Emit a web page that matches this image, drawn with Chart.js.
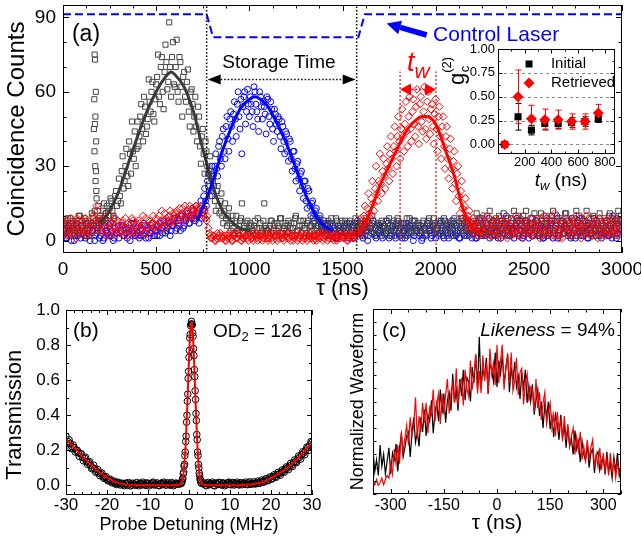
<!DOCTYPE html>
<html><head><meta charset="utf-8">
<script src="https://cdn.jsdelivr.net/npm/chart.js@4.4.1/dist/chart.umd.min.js"></script>
<style>
html,body{margin:0;padding:0;background:#fff;}
#wrap{position:relative;width:641px;height:542px;overflow:hidden;background:#fff;}
canvas{position:absolute;}
</style></head><body>
<div id="wrap">
<canvas id="cA" width="641" height="302" style="left:0px;top:0px"></canvas>
<canvas id="cB" width="330" height="247" style="left:0px;top:295px"></canvas>
<canvas id="cC" width="311" height="247" style="left:330px;top:295px"></canvas>
<canvas id="cI" width="195" height="160" style="left:440px;top:40px"></canvas>
</div>
<script>
// ================= DATA =================
// Panel (a): coincidence counts. Sweep A sampled at tauStart + k*tauStep, sweep B at tauStartB + k*tauStep (ns)
const tauStart = 0, tauStartB = 5, tauStep = 10;
const initialCounts = [
 5,8,3,6,9,4,2,7,5,10,
 3,6,8,4,2,7,9,12,6,14,
 10,8,15,11,7,13,16,10,18,14,
 25,15,34,24,37,22,35,48,33,30,
 48,42,55,40,54,46,65,52,64,48,
 63,75,55,74,53,79,61,88,58,80,
 62,81,56,72,50,68,56,69,46,61,
 44,58,40,50,31,45,27,36,22,34,
 18,27,12,22,11,19,7,15,6,13,
 4,10,3,10,3,8,15,6,2,8,
 5,6,3,8,5,2,7,4,15,5,
 3,6,8,4,2,7,5,9,3,6,
 4,8,5,2,7,10,4,6,3,8,
 5,7,2,6,9,4,5,3,8,6,
 4,7,2,5,9,3,6,8,4,5,
 7,3,6,2,8,5,4,9,6,3,
 7,5,2,8,4,6,10,3,5,7,
 4,8,6,2,5,9,3,7,4,6,
 8,5,3,7,2,6,9,4,5,8,
 3,6,4,7,5,2,8,6,3,9,
 5,4,7,3,6,8,2,5,7,4,
 9,6,3,5,8,4,7,2,6,5,
 8,4,11,6,3,9,5,2,7,12,
 4,8,6,3,10,5,2,7,4,9,
 6,3,12,5,8,2,6,10,4,7,
 3,9,5,11,4,6,2,8,5,10,
 7,3,6,12,4,9,2,5,8,6,
 11,4,7,3,9,5,2,10,6,4,
 8,12,5,3,7,9,4,6,11,2,
 5,8,4,10,6,3,9,7,12,5,
 6];
const initialCountsB = [
 7,4,9,2,6,8,3,5,10,6,
 4,9,2,7,5,11,6,8,4,9,
 7,12,9,14,10,17,12,9,20,16,
 18,28,21,30,26,40,27,36,44,37,
 38,50,45,58,43,49,56,60,51,57,
 66,58,70,60,68,72,64,70,74,63,
 70,60,74,62,66,58,64,52,60,55,
 50,46,54,38,42,35,40,30,28,25,
 24,16,20,14,16,10,12,9,10,7,
 8,5,7,4,6,9,3,5,7,4,
 7,4,6,2,9,5,3,8,6,4,
 5,8,3,7,4,6,9,2,5,7,
 6,3,7,5,9,4,2,8,6,5,
 3,8,6,4,7,2,6,9,5,4,
 6,5,8,3,7,4,9,2,6,8,
 5,8,4,7,3,6,2,7,5,8,
 4,6,9,5,7,3,8,5,2,6,
 7,3,5,8,4,6,2,8,5,9,
 6,2,7,4,9,5,3,6,8,4,
 7,5,2,8,4,6,9,3,5,7,
 6,8,3,5,9,4,7,6,2,8,
 5,3,7,9,4,6,2,8,5,3,
 3,7,5,9,2,6,4,10,3,6,
 7,2,9,5,3,8,11,4,6,2,
 9,5,3,7,10,4,8,3,12,5,
 6,2,7,4,9,3,11,5,7,2,
 4,8,10,3,6,2,9,7,3,11,
 5,7,2,8,4,12,6,3,9,5,
 3,6,9,2,10,5,7,3,8,6,
 9,3,6,11,4,7,2,8,5,10];
const initialSpikeTau = [166,168,169,170,171,172,173,174,175,176,177,178,179,180];
const initialSpikeCounts = [45,57,36,75,47,73,30,50,24,60,28,40,20,17];
const slowCounts = [
 2,5,1,4,7,3,0,6,2,4,
 8,3,1,5,2,6,4,0,3,7,
 2,5,1,4,3,6,2,0,5,3,
 1,4,6,2,3,5,0,4,7,2,
 3,1,5,2,6,4,1,3,7,2,
 4,6,2,5,8,3,5,7,4,6,
 9,5,7,4,10,6,8,11,7,9,
 12,8,11,7,16,12,21,14,27,18,
 30,22,35,26,40,30,45,33,50,36,
 52,40,56,42,60,45,35,58,47,61,
 50,55,46,60,52,44,58,49,54,43,
 57,47,53,40,51,44,49,37,46,35,
 43,32,40,28,36,24,32,20,28,17,
 24,13,20,10,16,8,13,6,10,4,
 8,3,7,5,2,6,4,1,5,3,
 2,6,4,1,7,3,5,2,8,4,
 3,1,6,4,2,5,7,3,1,4,
 6,2,5,3,8,1,4,6,2,7,
 3,5,1,4,7,2,6,3,0,5,
 4,2,6,1,5,3,7,4,2,6,
 1,5,3,8,2,4,6,1,3,5,
 7,2,4,1,6,3,5,8,2,4,
 3,6,1,5,9,2,4,7,3,1,
 5,8,2,4,6,1,3,7,10,4,
 2,5,1,6,3,8,4,2,7,5,
 1,4,9,3,6,2,5,8,1,4,
 6,3,7,1,5,10,2,4,8,3,
 5,2,6,9,3,1,7,4,2,8,
 4,6,1,5,3,9,2,7,4,1,
 6,3,8,2,5,10,4,1,7,3,
 5];
const slowCountsB = [
 4,1,6,3,0,5,2,7,3,1,
 5,2,7,3,0,4,6,2,5,1,
 4,0,6,3,2,7,4,1,3,6,
 3,6,2,5,1,4,7,3,2,5,
 6,2,4,7,1,5,3,6,2,4,
 2,5,7,3,6,4,8,2,6,9,
 4,8,6,10,5,9,12,7,10,13,
 9,14,10,13,9,18,16,24,20,28,
 26,30,29,38,33,42,36,46,41,49,
 46,51,49,55,50,57,54,60,52,55,
 58,52,62,55,49,60,54,56,51,58,
 50,56,45,53,47,50,42,48,40,44,
 36,41,33,36,29,31,25,27,22,24,
 16,21,14,15,11,12,9,8,6,7,
 4,6,2,7,3,5,1,6,4,2,
 5,3,7,2,4,6,1,5,3,7,
 2,6,4,0,5,3,8,2,6,3,
 4,1,6,3,7,2,5,4,1,6,
 2,7,4,1,5,3,6,8,2,4,
 6,3,0,5,2,7,4,1,6,3,
 5,2,7,4,1,6,3,5,8,2,
 3,6,1,5,9,2,4,7,3,1,
 6,1,4,8,3,5,2,6,9,4,
 2,5,7,1,4,8,3,6,2,5,
 7,3,6,9,2,4,1,5,8,3,
 4,7,2,5,8,3,6,1,4,9,
 2,5,8,3,6,1,4,7,3,6,
 8,3,1,5,7,2,6,9,4,2,
 5,1,7,3,6,4,8,2,5,3,
 3,7,2,6,1,5,8,3,6,4];
const retrievedCounts = [
 4,7,2,5,9,3,6,1,8,4,
 6,3,9,5,2,7,10,4,14,6,
 8,3,6,11,4,2,7,5,9,3,
 6,4,8,2,5,7,3,9,4,6,
 2,7,5,10,3,6,8,4,7,5,
 9,4,7,12,5,8,6,10,7,11,
 8,12,6,10,13,8,11,9,14,10,
 12,9,13,11,14,10,12,8,5,2,
 1,2,0,3,1,2,1,0,2,3,
 1,0,2,1,3,2,0,1,2,1,
 3,1,0,2,1,2,3,0,1,2,
 0,2,1,4,1,0,2,3,1,2,
 1,3,0,2,1,2,0,1,3,1,
 2,0,1,3,2,1,0,2,1,3,
 1,2,0,1,2,3,1,0,2,1,
 2,1,3,0,1,2,1,2,3,4,
 9,3,14,6,19,9,24,12,30,16,
 35,19,33,21,38,24,42,27,46,30,
 50,33,53,36,56,38,58,40,57,42,
 61,39,58,44,62,41,60,43,55,39,
 57,36,54,33,50,29,46,25,41,21,
 36,16,30,11,24,8,17,5,12,4,
 9,3,7,2,6,4,8,3,5,9,
 2,6,4,8,3,1,7,5,9,4,
 6,2,5,10,3,7,4,1,8,5,
 3,9,2,6,4,7,1,5,10,3,
 5,8,2,4,11,6,3,7,1,5,
 9,3,6,2,8,4,7,5,1,6,
 4,10,3,5,2,7,6,1,9,4,
 6,2,8,4,7,3,5,9,2,5,
 4];
const retrievedCountsB = [
 6,3,8,2,5,7,4,9,3,6,
 8,4,2,7,5,3,9,6,12,8,
 4,9,5,2,7,10,3,6,4,8,
 3,7,5,9,2,6,4,8,3,7,
 8,4,6,3,9,5,2,7,10,6,
 6,10,8,5,11,9,7,12,8,10,
 11,9,13,11,9,14,12,10,12,13,
 10,14,12,13,11,13,9,10,3,1,
 2,0,1,2,3,1,2,0,1,2,
 0,2,3,1,2,0,1,3,2,0,
 2,1,2,3,0,1,2,1,3,1,
 1,3,0,2,2,1,3,1,0,2,
 3,1,2,0,2,3,1,2,0,2,
 1,2,3,1,0,2,1,3,2,0,
 2,3,1,2,1,0,2,1,3,2,
 1,2,0,2,3,1,2,3,2,6,
 5,10,7,13,11,17,15,21,19,24,
 23,28,26,31,29,35,33,38,36,42,
 40,45,42,47,44,50,45,52,47,54,
 46,55,48,52,45,56,49,53,46,51,
 45,50,42,46,38,42,33,37,29,32,
 23,27,18,20,13,14,9,10,6,7,
 5,8,2,6,4,10,3,7,5,2,
 8,4,6,2,9,5,3,7,1,6,
 4,8,3,6,2,9,5,3,7,4,
 7,2,5,8,3,6,9,2,4,8,
 3,6,9,2,7,4,1,8,5,3,
 5,8,2,7,4,10,3,6,9,2,
 7,3,6,9,4,2,8,5,3,7,
 3,8,5,2,9,4,7,3,6,8];
const initialFitTau = [200,250,300,350,400,450,500,550,580,600,650,700,750,775,800,850,900,950,1000];
const initialFitCounts = [7,12,20,31,42,52,60,66,68,67,62,52,37,30,23,13,8,5,4];
const slowFitTau = [720,760,800,850,900,950,1000,1030,1060,1100,1150,1200,1250,1300,1350,1400,1450];
const slowFitCounts = [8,15,23,35,45,53,57,58,57,54,47,39,29,19,11,6,4];
const retrievedFitTau = [1580,1600,1650,1700,1750,1800,1850,1900,1925,1950,2000,2050,2100,2150,2200,2250];
const retrievedFitCounts = [2,4,12,22,30,38,45,49,50,50,47,37,26,12,5,3];
const controlTau = [0,771,805,1585,1620,3000];
const controlLevel = [91.3,91.3,82,82,91.3,91.3];
const storageEdges = [771,1576];
const twEdges = [1809,2002];
const twTop = 68.2;

// Inset: g_c^(2) vs t_w
const twValues = [50,150,250,350,450,550,650,750];
const initialG = [0.00,0.29,0.15,0.22,0.22,0.23,0.24,0.27];
const initialGErr = [0.01,0.14,0.05,0.06,0.05,0.05,0.05,0.04];
const retrievedG = [0.00,0.50,0.27,0.26,0.26,0.24,0.24,0.33];
const retrievedGErr = [0.01,0.28,0.14,0.11,0.10,0.08,0.08,0.09];

// Panel (b): EIT transmission
const detLeftStart = -30, detLeftStartB = -29.75, detWingStep = 0.5;
const transLeft = [
 0.28,0.25,0.24,0.22,0.215,0.2,0.185,0.18,0.16,0.155,
 0.135,0.13,0.115,0.1,0.095,0.08,0.07,0.065,0.05,0.045,
 0.035,0.03,0.025,0.02,0.012,0.015,0.008,0.01,0.004,0.012,
 0,0.008,0.002,0.01,0,0.006,0.012,0.002,0.008,0,
 0.01,0.004,0.014,0.002,0.008,0,0.01,0.004,0.012,0.002,
 0.008,0,0.01,0.004,0.012,0.006];
const transLeftB = [
 0.24,0.26,0.21,0.23,0.19,0.2,0.165,0.18,0.14,0.16,
 0.12,0.135,0.095,0.115,0.075,0.09,0.055,0.07,0.04,0.05,
 0.025,0.035,0.014,0.024,0.005,0.018,0.002,0.012,-0.002,0.01,
 0.016,-0.003,0.012,0.004,0.016,-0.002,0.01,0.018,0.003,0.014,
 -0.003,0.01,0.018,0.004,0.014,-0.002,0.012,0.018,0.002,0.015,
 0.005,0.016,-0.002,0.012,0.008];
const detPeakStart = -2.0, detPeakStep = 0.1;
const transPeak = [
 0.012,0.01,0.018,0.02,0.032,0.04,0.065,0.075,0.11,0.12,
 0.17,0.19,0.25,0.28,0.36,0.4,0.48,0.52,0.61,0.65,
 0.73,0.77,0.84,0.86,0.91,0.92,0.935,0.92,0.915,0.87,
 0.85,0.78,0.74,0.66,0.62,0.54,0.49,0.41,0.37,0.29,
 0.26,0.19,0.17,0.12,0.1,0.07,0.055,0.035,0.03,0.018,0.012];
const detRightStart = 3.5, detRightStartB = 3.75;
const transRight = [
 0.008,0.002,0.012,0.004,0.01,0,0.012,0.006,0.014,0.002,
 0.01,0.004,0.015,0.006,0.012,0.002,0.01,0.005,0.013,0.004,
 0.011,0.006,0.014,0.008,0.012,0.01,0.016,0.014,0.022,0.02,
 0.03,0.028,0.04,0.038,0.05,0.05,0.062,0.064,0.075,0.08,
 0.092,0.098,0.11,0.115,0.13,0.135,0.15,0.16,0.175,0.185,
 0.2,0.215,0.23,0.245];
const transRightB = [
 0.014,-0.002,0.016,0.008,0.018,-0.003,0.01,0.017,0.004,0.015,
 -0.002,0.012,0.018,0.003,0.016,0.008,0.018,0.002,0.015,0.01,
 0.018,0.004,0.02,0.006,0.02,0.008,0.024,0.012,0.03,0.018,
 0.038,0.026,0.048,0.036,0.06,0.046,0.074,0.058,0.088,0.075,
 0.105,0.09,0.125,0.108,0.145,0.13,0.168,0.15,0.192,0.175,
 0.218,0.2,0.25];
const transFitDet = [-30,-28,-26,-24,-22,-20,-18,-16,-14,-10,-4,-2.5,-2,-1.6,-1.2,-0.8,-0.4,0,0.3,0.6,0.9,1.2,1.6,2.0,2.4,2.8,3.2,3.6,6,12,14,16,18,20,22,24,26,28,30];
const transFit = [0.265,0.215,0.165,0.12,0.078,0.045,0.02,0.007,0.002,0,0,0.003,0.01,0.03,0.1,0.24,0.47,0.72,0.87,0.93,0.88,0.73,0.48,0.25,0.1,0.03,0.01,0.003,0,0.001,0.003,0.008,0.018,0.04,0.068,0.1,0.14,0.19,0.245];

// Panel (c): normalized waveforms, sampled every 5 ns from -350 ns
const wfStart = -350, wfStep = 5;
const wfInitial = [
 3.3,1.7,2.6,1.4,3.7,2.1,3.0,1.5,2.5,3.5,
 1.5,3.1,2.6,3.8,1.7,3.5,4.5,2.8,3.5,4.4,
 4.7,2.8,4.6,5.8,3.9,4.7,3.6,5.8,4.7,6.4,
 4.4,6.0,5.5,7.1,4.6,6.2,6.9,5.5,7.9,6.1,
 7.6,5.4,7.1,7.7,6.3,9.1,6.9,7.9,6.3,8.7,
 7.4,9.4,7.1,8.8,8.5,7.0,9.6,8.4,10.5,8.0,
 11.9,8.0,9.5,8.8,10.3,7.6,9.9,9.4,8.5,10.7,
 8.1,10.1,9.1,10.5,8.3,9.5,10.6,7.7,9.6,8.5,
 10.0,8.1,8.9,7.2,9.2,8.0,9.4,6.9,8.2,7.0,
 8.3,6.0,7.1,7.9,5.9,7.0,5.0,6.8,5.8,7.0,
 4.9,5.9,4.3,6.0,5.3,4.1,6.0,4.3,5.2,3.5,
 5.1,3.6,4.2,3.0,4.8,3.4,4.0,2.4,4.0,3.0,
 2.5,3.8,2.0,3.1,3.4,1.6,2.9,3.2,1.8,2.5,
 2.8,1.5,3.2,1.7,2.3,1.2,2.8,1.7,3.1,1.4,
 2.2];
const wfRetrieved = [
 1.0,0.7,1.1,0.65,0.85,1.2,0.7,1.1,1.4,1.2,
 2.3,1.5,3.4,2.3,3.7,2.3,4.7,3.2,4.2,5.2,
 3.7,5.8,4.4,5.2,7.3,4.2,5.9,4.7,6.9,5.4,
 6.9,4.6,6.5,6.0,7.9,5.5,6.8,7.6,5.3,7.6,
 6.0,7.5,8.7,6.1,7.6,8.4,6.9,9.5,6.7,8.4,
 8.7,6.7,9.4,8.0,7.4,10.1,7.9,8.9,10.6,7.6,
 9.3,7.65,10.5,8.55,10.0,7.55,11.0,9.05,9.9,8.25,
 11.3,8.4,10.1,11.3,7.9,9.6,10.4,8.4,10.7,7.8,
 8.5,10.3,7.5,9.2,9.5,6.8,8.4,9.1,7.0,8.1,
 7.9,6.2,8.7,6.5,7.7,5.6,6.9,7.7,5.3,6.2,
 6.9,5.0,6.0,4.4,6.2,4.9,5.6,4.0,5.9,4.1,
 5.3,3.6,4.4,5.0,3.0,4.3,3.3,4.7,2.6,3.6,
 2.6,4.1,2.7,3.5,4.1,2.0,3.0,2.1,3.5,1.8,
 3.1,1.7,2.7,1.4,3.1,1.7,2.5,1.2,2.4,1.6,
 1.6];

// ================= HELPERS =================
const FONT = "'Liberation Sans', Arial, Helvetica, sans-serif";
Chart.defaults.font.family = FONT;
Chart.defaults.color = '#000';
const series = (t0, dt, vals) => vals.map((v, i) => ({x: +(t0 + i * dt).toFixed(4), y: v}));
const pairs = (xs, ys) => xs.map((x, i) => ({x, y: ys[i]}));
const stepsFrom = (a, b, s) => { const r = []; for (let k = 0; a + k * s <= b + 1e-9; k++) r.push(+(a + k * s).toFixed(6)); return r; };
const isMult = (v, s) => Math.abs(v / s - Math.round(v / s)) < 1e-6;

function axis(o) {
  return {
    type: 'linear', position: o.pos, min: o.min, max: o.max,
    afterBuildTicks: s => { s.ticks = stepsFrom(o.first, o.last, o.minor).map(v => ({value: v})); },
    ticks: { autoSkip: false, maxRotation: 0, minRotation: 0, padding: o.pad, font: {size: o.fs}, color: '#000',
      callback: v => (o.major && isMult(v, o.major)) ? o.fmt(v) : '' },
    grid: { display: false, drawTicks: false },
    border: { display: false },
    title: o.title ? { display: true, text: o.title, font: {size: o.tfs}, color: '#000', padding: o.tpad } : {display: false},
    afterFit: s => {
      if (o.pos === 'bottom') s.height = o.size; else s.width = o.size;
      s.paddingLeft = 0; s.paddingRight = 0; s.paddingTop = 0; s.paddingBottom = 0;
    }
  };
}

const frameTicks = {
  id: 'frameTicks',
  afterDatasetsDraw(chart, args, o) {
    const {ctx, chartArea: a} = chart;
    const xs = chart.scales.x, ys = chart.scales.y;
    ctx.save();
    ctx.setLineDash([]);
    ctx.strokeStyle = '#000';
    ctx.lineWidth = 1;
    ctx.strokeRect(a.left + 0.5, a.top + 0.5, a.right - a.left - 1, a.bottom - a.top - 1);
    ctx.beginPath();
    xs.ticks.forEach(t => {
      if (!isMult(t.value, o.xMinor)) return;
      const L = (o.xMajor && isMult(t.value, o.xMajor)) ? o.major : o.minor;
      const p = Math.round(xs.getPixelForValue(t.value)) + 0.5;
      ctx.moveTo(p, a.bottom); ctx.lineTo(p, a.bottom - L);
      ctx.moveTo(p, a.top); ctx.lineTo(p, a.top + L);
    });
    ys.ticks.forEach(t => {
      if (!isMult(t.value, o.yMinor)) return;
      const L = (o.yMajor && isMult(t.value, o.yMajor)) ? o.major : o.minor;
      const p = Math.round(ys.getPixelForValue(t.value)) + 0.5;
      ctx.moveTo(a.left, p); ctx.lineTo(a.left + L, p);
      ctx.moveTo(a.right, p); ctx.lineTo(a.right - L, p);
    });
    ctx.stroke();
    ctx.restore();
  }
};

function dblArrow(ctx, x1, x2, yy, color, hl, hw, dash, lw) {
  ctx.strokeStyle = color; ctx.fillStyle = color; ctx.lineWidth = lw;
  ctx.setLineDash(dash);
  ctx.beginPath(); ctx.moveTo(x1 + hl, yy); ctx.lineTo(x2 - hl, yy); ctx.stroke();
  ctx.setLineDash([]);
  ctx.beginPath(); ctx.moveTo(x1, yy); ctx.lineTo(x1 + hl, yy - hw); ctx.lineTo(x1 + hl, yy + hw); ctx.closePath(); ctx.fill();
  ctx.beginPath(); ctx.moveTo(x2, yy); ctx.lineTo(x2 - hl, yy - hw); ctx.lineTo(x2 - hl, yy + hw); ctx.closePath(); ctx.fill();
}
function solidArrow(ctx, xt, yt, xh, yh, color, w, hl, hw) {
  const ang = Math.atan2(yh - yt, xh - xt);
  const bx = xh - hl * Math.cos(ang), by = yh - hl * Math.sin(ang);
  ctx.strokeStyle = color; ctx.fillStyle = color; ctx.lineWidth = w; ctx.setLineDash([]);
  ctx.beginPath(); ctx.moveTo(xt, yt); ctx.lineTo(bx, by); ctx.stroke();
  ctx.beginPath(); ctx.moveTo(xh, yh);
  ctx.lineTo(bx + hw * Math.sin(ang), by - hw * Math.cos(ang));
  ctx.lineTo(bx - hw * Math.sin(ang), by + hw * Math.cos(ang));
  ctx.closePath(); ctx.fill();
}

// ================= PANEL (a) =================
const aYMin = -5, aYMax = 95;
const annA = {
  panel: [48, 83.2], storageY: 65.3, storageLabel: [1159, 71.8],
  controlLabel: [1986, 82.8], controlTail: [1952, 82.9], controlHead: [1737, 87.5],
  twArrowY: 61.1, twT: [1846, 68.2], twWBase: 65.5
};
const annotA = {
  id: 'annotA',
  afterDatasetsDraw(chart) {
    const {ctx, scales: {x, y}} = chart;
    const px = v => x.getPixelForValue(v), py = v => y.getPixelForValue(v);
    ctx.save();
    dblArrow(ctx, px(storageEdges[0]) + 1, px(storageEdges[1]) - 1, Math.round(py(annA.storageY)) + 0.5, '#000', 13, 5, [1.5, 2], 1.5);
    dblArrow(ctx, px(twEdges[0]), px(twEdges[1]), Math.round(py(annA.twArrowY)) + 0.5, '#ff0000', 11, 6, [2, 2], 1.5);
    solidArrow(ctx, px(annA.controlTail[0]), py(annA.controlTail[1]), px(annA.controlHead[0]), py(annA.controlHead[1]), '#0000ff', 5.5, 14, 7);
    ctx.textBaseline = 'middle';
    ctx.fillStyle = '#000';
    ctx.font = '23px ' + FONT; ctx.textAlign = 'left';
    ctx.fillText('(a)', px(annA.panel[0]), py(annA.panel[1]));
    ctx.font = '19px ' + FONT; ctx.textAlign = 'center';
    ctx.fillText('Storage Time', px(annA.storageLabel[0]), py(annA.storageLabel[1]));
    ctx.fillStyle = '#0000ff'; ctx.font = '21px ' + FONT; ctx.textAlign = 'left';
    ctx.fillText('Control Laser', px(annA.controlLabel[0]), py(annA.controlLabel[1]));
    ctx.fillStyle = '#ff0000'; ctx.textBaseline = 'alphabetic';
    ctx.font = 'italic 27px ' + FONT;
    const tx = px(annA.twT[0]);
    ctx.fillText('t', tx, py(annA.twT[1]));
    const tw = ctx.measureText('t').width;
    ctx.font = 'italic 21px ' + FONT;
    ctx.fillText('w', tx + tw, py(annA.twWBase));
    ctx.restore();
  }
};
const lineDs = (data, color, w, dash) => ({ data, showLine: true, borderColor: color, borderWidth: w, borderDash: dash || [], pointRadius: 0, fill: false });
const fitDs = (data, color) => ({ data, showLine: true, borderColor: color, borderWidth: 3, pointRadius: 0, fill: false, cubicInterpolationMode: 'monotone' });
const ptsDs = (data, color, style, r) => ({ data, showLine: false, pointStyle: style, pointRadius: r, pointBorderWidth: 1, borderColor: color, pointBorderColor: color, backgroundColor: 'rgba(0,0,0,0)', pointBackgroundColor: 'rgba(0,0,0,0)' });

new Chart(document.getElementById('cA'), {
  type: 'scatter',
  data: { datasets: [
    lineDs(pairs(controlTau, controlLevel), '#0000ff', 2, [8, 4]),
    lineDs([{x: storageEdges[0], y: aYMin}, {x: storageEdges[0], y: aYMax}], '#000', 1.5, [1.5, 2]),
    lineDs([{x: storageEdges[1], y: aYMin}, {x: storageEdges[1], y: aYMax}], '#000', 1.5, [1.5, 2]),
    lineDs([{x: twEdges[0], y: aYMin}, {x: twEdges[0], y: twTop}], '#ff0000', 1.2, [2, 2]),
    lineDs([{x: twEdges[1], y: aYMin}, {x: twEdges[1], y: twTop}], '#ff0000', 1.2, [2, 2]),
    fitDs(pairs(retrievedFitTau, retrievedFitCounts), '#ff0000'),
    fitDs(pairs(slowFitTau, slowFitCounts), '#0000ff'),
    fitDs(pairs(initialFitTau, initialFitCounts), '#3a3a3a'),
    ptsDs(series(tauStart, tauStep, retrievedCounts).concat(series(tauStartB, tauStep, retrievedCountsB)), '#ff0000', 'rectRot', 3.8),
    ptsDs(pairs(initialSpikeTau, initialSpikeCounts), '#444444', 'rect', 3.6),
    ptsDs(series(tauStart, tauStep, initialCounts).concat(series(tauStartB, tauStep, initialCountsB)), '#444444', 'rect', 3.6),
    ptsDs(series(tauStart, tauStep, slowCounts).concat(series(tauStartB, tauStep, slowCountsB)), '#0000ff', 'circle', 3)
  ]},
  options: {
    responsive: false, devicePixelRatio: 1, animation: false, events: [],
    layout: { padding: {left: 0, top: 3, right: 19, bottom: 0} },
    plugins: { legend: {display: false}, tooltip: {enabled: false},
      frameTicks: { xMinor: 125, xMajor: 500, yMinor: 10, yMajor: 30, major: 6, minor: 3.5 } },
    scales: {
      x: axis({pos: 'bottom', min: 0, max: 3000, first: 0, last: 3000, minor: 125, major: 500, fmt: v => String(v), fs: 19, pad: 5, size: 49, title: 'τ (ns)', tfs: 22, tpad: {top: 0, bottom: 0}}),
      y: axis({pos: 'left', min: aYMin, max: aYMax, first: 0, last: 90, minor: 10, major: 30, fmt: v => String(v), fs: 19, pad: 7, size: 63, title: 'Coincidence Counts', tfs: 24, tpad: {top: 3, bottom: 0}})
    }
  },
  plugins: [frameTicks, annotA]
});

// ================= INSET =================
const annI = { legendMarkT: 232, legendTextT: 396, legendInitialG: 0.843, legendRetrievedG: 0.644, yTitle: [-290, 0.77], xTitle: [471, -0.372] };
const insetDecor = {
  id: 'insetDecor',
  beforeDatasetsDraw(chart) {
    const {ctx, chartArea: a, scales: {y}} = chart;
    ctx.save();
    ctx.fillStyle = '#fff';
    ctx.fillRect(a.left, a.top, a.right - a.left, a.bottom - a.top);
    ctx.strokeStyle = '#8a8a8a'; ctx.lineWidth = 1; ctx.setLineDash([3, 3]);
    y.ticks.forEach(t => {
      if (t.value < 0 || t.value > 0.8 || !isMult(t.value, 0.25)) return;
      const p = Math.round(y.getPixelForValue(t.value)) + 0.5;
      ctx.beginPath(); ctx.moveTo(a.left, p); ctx.lineTo(a.right, p); ctx.stroke();
    });
    ctx.setLineDash([]);
    const ds = chart.data.datasets;
    const xs = chart.scales.x;
    for (let i = ds.length - 1; i >= 0; i--) {
      const d = ds[i]; if (!d.errors) continue;
      ctx.strokeStyle = d.borderColor; ctx.lineWidth = 1;
      d.data.forEach((p, j) => {
        const e = d.errors[j];
        const X = Math.round(xs.getPixelForValue(p.x)) + 0.5;
        const y1 = y.getPixelForValue(p.y - e), y2 = y.getPixelForValue(p.y + e);
        ctx.beginPath(); ctx.moveTo(X, y1); ctx.lineTo(X, y2);
        ctx.moveTo(X - 3, y1); ctx.lineTo(X + 3, y1); ctx.moveTo(X - 3, y2); ctx.lineTo(X + 3, y2); ctx.stroke();
      });
    }
    ctx.restore();
  },
  afterDraw(chart) {
    const {ctx, scales: {x, y}} = chart;
    ctx.save();
    const mx = x.getPixelForValue(annI.legendMarkT);
    const y1 = y.getPixelForValue(annI.legendInitialG), y2 = y.getPixelForValue(annI.legendRetrievedG);
    ctx.fillStyle = '#000'; ctx.fillRect(mx - 3.5, y1 - 3.5, 7, 7);
    ctx.fillStyle = '#ff0000'; ctx.beginPath(); ctx.moveTo(mx, y2 - 5.5); ctx.lineTo(mx + 5.5, y2); ctx.lineTo(mx, y2 + 5.5); ctx.lineTo(mx - 5.5, y2); ctx.closePath(); ctx.fill();
    ctx.fillStyle = '#000'; ctx.font = '15px ' + FONT; ctx.textAlign = 'left'; ctx.textBaseline = 'middle';
    ctx.fillText('Initial', x.getPixelForValue(annI.legendTextT), y1);
    ctx.fillText('Retrieved', x.getPixelForValue(annI.legendTextT), y2);
    ctx.textBaseline = 'alphabetic';
    ctx.font = 'italic 19px ' + FONT; const wt = ctx.measureText('t').width;
    ctx.font = 'italic 13px ' + FONT; const ww = ctx.measureText('w').width;
    ctx.font = '19px ' + FONT; const wn = ctx.measureText(' (ns)').width;
    let cx = x.getPixelForValue(annI.xTitle[0]) - (wt + ww + wn) / 2;
    const by = y.getPixelForValue(annI.xTitle[1]) + 6;
    ctx.font = 'italic 19px ' + FONT; ctx.fillText('t', cx, by); cx += wt;
    ctx.font = 'italic 13px ' + FONT; ctx.fillText('w', cx, by + 4); cx += ww;
    ctx.font = '19px ' + FONT; ctx.fillText(' (ns)', cx, by);
    ctx.translate(x.getPixelForValue(annI.yTitle[0]), y.getPixelForValue(annI.yTitle[1]));
    ctx.rotate(-Math.PI / 2);
    ctx.font = '22px ' + FONT; const wg = ctx.measureText('g').width;
    ctx.font = '13px ' + FONT; const w2 = ctx.measureText('(2)').width;
    const gx = -(wg + w2) / 2;
    ctx.font = '22px ' + FONT; ctx.fillText('g', gx, 5);
    ctx.font = '13px ' + FONT; ctx.fillText('c', gx + wg + 0.5, 10); ctx.fillText('(2)', gx + wg, -8);
    ctx.restore();
  }
};
new Chart(document.getElementById('cI'), {
  type: 'scatter',
  data: { datasets: [
    { data: pairs(twValues, retrievedG), errors: retrievedGErr, pointStyle: 'rectRot', pointRadius: 5.5, borderColor: '#ff0000', backgroundColor: '#ff0000', pointBorderWidth: 0 },
    { data: pairs(twValues, initialG), errors: initialGErr, pointStyle: 'rect', pointRadius: 5, borderColor: '#000', backgroundColor: '#000', pointBorderWidth: 0 }
  ]},
  options: {
    responsive: false, devicePixelRatio: 1, animation: false, events: [],
    layout: { padding: {left: 0, top: 9, right: 20, bottom: 0} },
    plugins: { legend: {display: false}, tooltip: {enabled: false},
      frameTicks: { xMinor: 100, xMajor: 200, yMinor: 0.125, yMajor: 0.25, major: 4.5, minor: 2.5 } },
    scales: {
      x: axis({pos: 'bottom', min: 0, max: 875, first: 0, last: 800, minor: 100, major: 200, fmt: v => v > 0 ? String(v) : '', fs: 13, pad: 1, size: 46}),
      y: axis({pos: 'left', min: -0.1, max: 1.0, first: 0, last: 1.0, minor: 0.125, major: 0.25, fmt: v => v.toFixed(2), fs: 13, pad: 3, size: 58})
    }
  },
  plugins: [insetDecor, frameTicks]
});

// ================= PANEL (b) =================
const annB = { panel: [-28.3, 0.88], od: [5.85, 0.877] };
const annotB = {
  id: 'annotB',
  afterDatasetsDraw(chart) {
    const {ctx, scales: {x, y}} = chart;
    ctx.save();
    ctx.fillStyle = '#000'; ctx.textAlign = 'left'; ctx.textBaseline = 'middle';
    ctx.font = '21px ' + FONT;
    ctx.fillText('(b)', x.getPixelForValue(annB.panel[0]), y.getPixelForValue(annB.panel[1]));
    let ox = x.getPixelForValue(annB.od[0]); const oy = y.getPixelForValue(annB.od[1]);
    ctx.font = '19px ' + FONT; ctx.fillText('OD', ox, oy); ox += ctx.measureText('OD').width;
    ctx.font = '13px ' + FONT; ctx.fillText('2', ox, oy + 6); ox += ctx.measureText('2').width;
    ctx.font = '19px ' + FONT; ctx.fillText(' = 126', ox, oy);
    ctx.restore();
  }
};
const transPoints = series(detLeftStart, detWingStep, transLeft).concat(
  series(detLeftStartB, detWingStep, transLeftB),
  series(detPeakStart, detPeakStep, transPeak),
  series(detRightStart, detWingStep, transRight),
  series(detRightStartB, detWingStep, transRightB));
new Chart(document.getElementById('cB'), {
  type: 'scatter',
  data: { datasets: [
    { data: pairs(transFitDet, transFit), showLine: true, borderColor: '#ff0000', borderWidth: 2, pointRadius: 0, fill: false, cubicInterpolationMode: 'monotone' },
    ptsDs(transPoints, '#000', 'circle', 3.3)
  ]},
  options: {
    responsive: false, devicePixelRatio: 1, animation: false, events: [],
    layout: { padding: {left: 0, top: 15, right: 18, bottom: 0} },
    plugins: { legend: {display: false}, tooltip: {enabled: false},
      frameTicks: { xMinor: 2, xMajor: 10, yMinor: 0.1, yMajor: 0.2, major: 5, minor: 3 } },
    scales: {
      x: axis({pos: 'bottom', min: -30, max: 30, first: -30, last: 30, minor: 2, major: 10, fmt: v => String(v), fs: 17, pad: 0, size: 47, title: 'Probe Detuning (MHz)', tfs: 18, tpad: {top: 0, bottom: 6}}),
      y: axis({pos: 'left', min: -0.055, max: 1.0, first: 0, last: 1.0, minor: 0.1, major: 0.2, fmt: v => v.toFixed(1), fs: 17, pad: 6, size: 66, title: 'Transmission    ', tfs: 22, tpad: {top: 2, bottom: 0}})
    }
  },
  plugins: [frameTicks, annotB]
});

// ================= PANEL (c) =================
const annC = { panel: [-324.6, 12.33], likeRight: [333, 12.33] };
const annotC = {
  id: 'annotC',
  afterDatasetsDraw(chart) {
    const {ctx, scales: {x, y}} = chart;
    ctx.save();
    ctx.fillStyle = '#000'; ctx.textAlign = 'left'; ctx.textBaseline = 'middle';
    ctx.font = '21px ' + FONT;
    ctx.fillText('(c)', x.getPixelForValue(annC.panel[0]), y.getPixelForValue(annC.panel[1]));
    ctx.font = 'italic 19px ' + FONT; const w1 = ctx.measureText('Likeness').width;
    ctx.font = '19px ' + FONT; const w2 = ctx.measureText(' = 94%').width;
    const lx = x.getPixelForValue(annC.likeRight[0]) - w1 - w2; const ly = y.getPixelForValue(annC.likeRight[1]);
    ctx.font = 'italic 19px ' + FONT; ctx.fillText('Likeness', lx, ly);
    ctx.font = '19px ' + FONT; ctx.fillText(' = 94%', lx + w1, ly);
    ctx.restore();
  }
};
new Chart(document.getElementById('cC'), {
  type: 'scatter',
  data: { datasets: [
    lineDs(series(wfStart, wfStep, wfRetrieved), '#ff0000', 1.2),
    lineDs(series(wfStart, wfStep, wfInitial), '#000', 1.2)
  ]},
  options: {
    responsive: false, devicePixelRatio: 1, animation: false, events: [],
    layout: { padding: {left: 0, top: 14, right: 20, bottom: 0} },
    plugins: { legend: {display: false}, tooltip: {enabled: false},
      frameTicks: { xMinor: 50, xMajor: 150, yMinor: 1, yMajor: null, major: 5, minor: 3.5 } },
    scales: {
      x: axis({pos: 'bottom', min: -350, max: 350, first: -350, last: 350, minor: 50, major: 150, fmt: v => String(v), fs: 16, pad: 2, size: 48, title: 'τ (ns)', tfs: 21, tpad: {top: 0, bottom: 6}}),
      y: axis({pos: 'left', min: 0, max: 14, first: 0, last: 14, minor: 1, major: null, fmt: v => '', fs: 12, pad: 0, size: 43, title: 'Normalized Waveform', tfs: 18, tpad: {top: 17, bottom: 0}})
    }
  },
  plugins: [frameTicks, annotC]
});
</script>
</body></html>
